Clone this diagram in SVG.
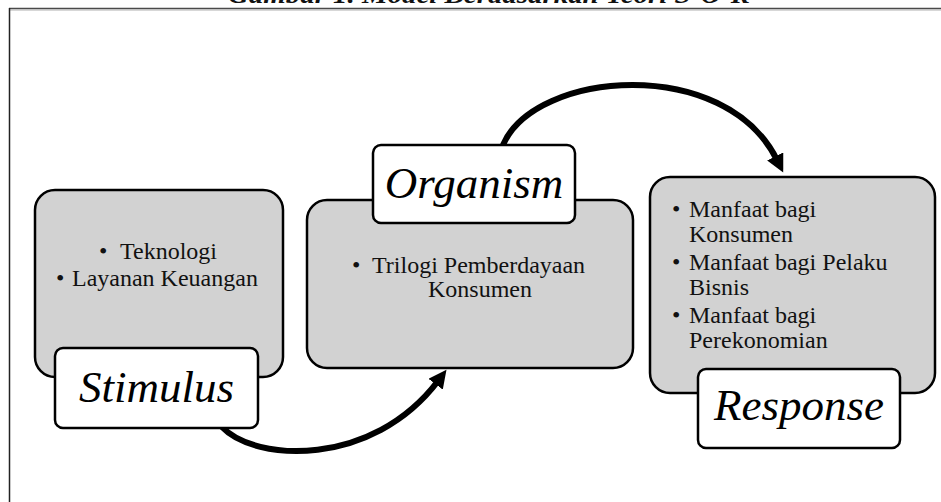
<svg xmlns="http://www.w3.org/2000/svg" width="941" height="502" viewBox="0 0 941 502">
<style>
.panel{fill:#d2d2d2;stroke:#000;stroke-width:2.5}
.label{fill:#fff;stroke:#000;stroke-width:2.5}
.body{font-family:"Liberation Serif","Times New Roman",serif;font-size:24px;fill:#111}
.title{font-family:"Liberation Serif","Times New Roman",serif;font-size:45px;font-style:italic;fill:#000}
.conn{fill:none;stroke:#000;stroke-width:6}
</style>
<defs>
<marker id="head" markerUnits="userSpaceOnUse" markerWidth="20" markerHeight="18" refX="4" refY="9" orient="auto" viewBox="0 0 20 18">
<path d="M0,0 L18,9 L0,18 z" fill="#000"/>
</marker>
</defs>
<rect width="941" height="502" fill="#fff"/>
<text x="489" y="3" text-anchor="middle" textLength="522" lengthAdjust="spacingAndGlyphs" style="font-family:'Liberation Serif',serif;font-size:26px;font-weight:bold;font-style:italic" fill="#111">Gambar 1. Model Berdasarkan Teori S-O-R</text>
<g id="frame">
<line x1="9" y1="8.5" x2="941" y2="8.5" stroke="#4a4a4a" stroke-width="1.5"/>
<line x1="9" y1="10" x2="941" y2="10" stroke="#b0b0b0" stroke-width="1"/>
<line x1="9.5" y1="8" x2="9.5" y2="502" stroke="#222" stroke-width="1.5"/>
</g>
<g id="connectors">
<path class="conn" d="M222,427 C255,462 372,468 438,381" marker-end="url(#head)"/>
<path class="conn" d="M503,145 C535,70 725,55 777,160" marker-end="url(#head)"/>
</g>
<g id="stimulus">
<rect class="panel" x="35" y="190" width="248" height="187" rx="20"/>
<text class="body"><tspan x="99" y="259">•</tspan><tspan x="120" y="259">Teknologi</tspan><tspan x="56" y="286">•</tspan><tspan x="72" y="286">Layanan Keuangan</tspan></text>
<rect class="label" x="55" y="348" width="203" height="80" rx="8"/>
<text class="title" x="156.5" y="402" text-anchor="middle">Stimulus</text>
</g>
<g id="organism">
<rect class="panel" x="307" y="200" width="326" height="168" rx="20"/>
<text class="body"><tspan x="352" y="273">•</tspan><tspan x="372" y="273">Trilogi Pemberdayaan</tspan><tspan x="480" y="297" text-anchor="middle">Konsumen</tspan></text>
<rect class="label" x="373" y="145" width="202" height="78" rx="8"/>
<text class="title" x="474" y="198" text-anchor="middle">Organism</text>
</g>
<g id="response">
<rect class="panel" x="650" y="177" width="285" height="216" rx="20"/>
<text class="body"><tspan x="672" y="217">•</tspan><tspan x="689" y="217">Manfaat bagi</tspan><tspan x="689" y="242">Konsumen</tspan><tspan x="672" y="270">•</tspan><tspan x="689" y="270">Manfaat bagi Pelaku</tspan><tspan x="689" y="295">Bisnis</tspan><tspan x="672" y="323">•</tspan><tspan x="689" y="323">Manfaat bagi</tspan><tspan x="689" y="348">Perekonomian</tspan></text>
<rect class="label" x="698" y="369" width="202" height="79" rx="8"/>
<text class="title" x="799" y="420" text-anchor="middle">Response</text>
</g>
</svg>
